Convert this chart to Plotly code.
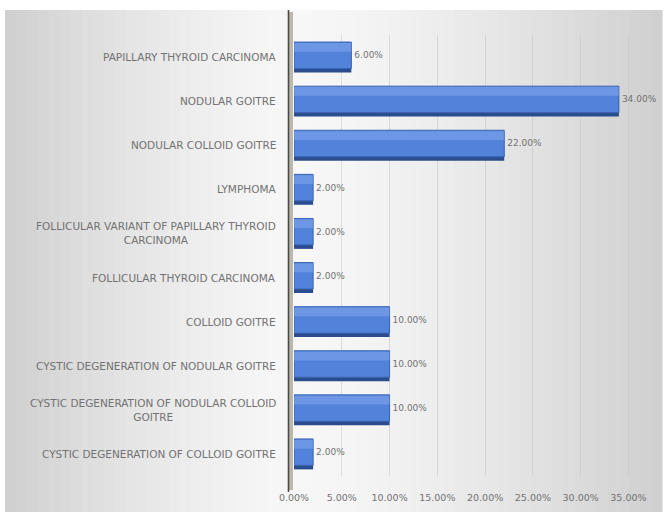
import plotly.graph_objects as go

# Diagnoses (top to bottom) and their share of cases, in percent
categories = [
    "PAPILLARY THYROID CARCINOMA",
    "NODULAR GOITRE",
    "NODULAR COLLOID GOITRE",
    "LYMPHOMA",
    "FOLLICULAR VARIANT OF PAPILLARY THYROID<br>CARCINOMA",
    "FOLLICULAR THYROID CARCINOMA",
    "COLLOID GOITRE",
    "CYSTIC DEGENERATION OF NODULAR GOITRE",
    "CYSTIC DEGENERATION OF NODULAR COLLOID<br>GOITRE",
    "CYSTIC DEGENERATION OF COLLOID GOITRE",
]
percent = [6.0, 34.0, 22.0, 2.0, 2.0, 2.0, 10.0, 10.0, 10.0, 2.0]
tick_values = [0, 5, 10, 15, 20, 25, 30, 35]
tick_labels = ["0.00%", "5.00%", "10.00%", "15.00%", "20.00%", "25.00%", "30.00%", "35.00%"]

W, H = 666, 518
L, R, T, B = 294, 28, 35, 42
PW, PH = W - L - R, H - T - B
FONT = "DejaVu Sans"
GREY = "#727272"

fig = go.Figure()

# bar underside / depth
fig.add_trace(go.Bar(
    y=categories, x=percent, orientation="h",
    width=0.66, offset=-0.31,
    marker=dict(color="#2b4d8e", line=dict(width=0)),
    hoverinfo="skip", showlegend=False,
))
# main bar face
fig.add_trace(go.Bar(
    y=categories, x=percent, orientation="h",
    width=0.6, offset=-0.34,
    marker=dict(color="#5283da", line=dict(color="#3b64b2", width=1)),
    text=[f"{v:.2f}%" for v in percent],
    textposition="outside",
    textfont=dict(family=FONT, size=9, color=GREY),
    cliponaxis=False,
    showlegend=False,
))
# lighter highlight band along the top of each bar
fig.add_trace(go.Bar(
    y=categories, x=percent, orientation="h",
    width=0.2, offset=-0.32,
    marker=dict(color="rgba(135,170,238,0.5)", line=dict(width=0)),
    hoverinfo="skip", showlegend=False,
))

# horizontal grey gradient panel behind the chart
shapes = []
x0, x1 = 5, 662
n = 60
for i in range(n):
    a = x0 + (x1 - x0) * i / n
    b = x0 + (x1 - x0) * (i + 1) / n
    c = (a + b) / 2
    centre = 300
    if c < centre:
        t = (centre - c) / (centre - x0)
    else:
        t = (c - centre) / (x1 - centre)
    g = int(round(247 - 40 * t ** 1.4))
    shapes.append(dict(
        type="rect", xref="paper", yref="paper", layer="below",
        x0=(a - L) / PW, x1=(b + 0.6 - L) / PW,
        y0=(H - B - 512) / PH, y1=(H - B - 10) / PH,
        fillcolor=f"rgb({g},{g},{g})", line=dict(width=0),
    ))
# side wall of the 3-D frame
shapes.append(dict(
    type="rect", xref="paper", yref="paper", layer="below",
    x0=-6 / PW, x1=-1 / PW,
    y0=-14 / PH, y1=(H - B - 12) / PH,
    fillcolor="#bdb8ac", line=dict(width=0),
))
shapes.append(dict(
    type="line", xref="paper", yref="paper",
    x0=-5.5 / PW, x1=-5.5 / PW,
    y0=-16 / PH, y1=(H - B - 10) / PH,
    line=dict(color="#4a4a4a", width=1.6),
))

# category labels, right aligned with centred second lines
annotations = []
for cat in categories:
    annotations.append(dict(
        x=-16 / PW, xref="paper", y=cat, yref="y",
        text=cat, showarrow=False, xanchor="right", yanchor="middle",
        align="center",
        font=dict(family=FONT, size=10.5, color=GREY),
    ))

fig.update_layout(
    width=W, height=H,
    margin=dict(l=L, r=R, t=T, b=B),
    paper_bgcolor="white",
    plot_bgcolor="rgba(0,0,0,0)",
    barmode="overlay",
    shapes=shapes,
    annotations=annotations,
    xaxis=dict(
        range=[0, 36], tickvals=tick_values, ticktext=tick_labels,
        showgrid=True, gridcolor="rgba(190,190,190,0.45)", gridwidth=1,
        zeroline=False, showline=False, ticks="",
        tickfont=dict(family=FONT, size=9.5, color=GREY),
        ticklabelstandoff=14,
    ),
    yaxis=dict(
        categoryorder="array", categoryarray=categories,
        autorange="reversed", showticklabels=False,
        showgrid=False, zeroline=False, showline=False, ticks="",
    ),
)

fig.write_html("out.html")
